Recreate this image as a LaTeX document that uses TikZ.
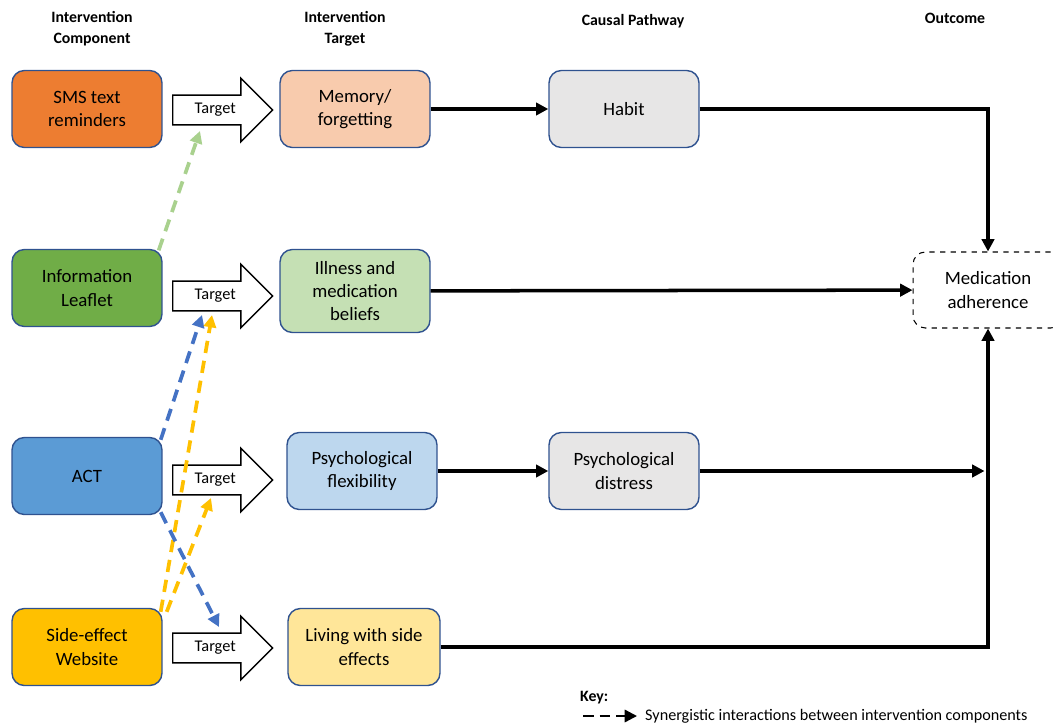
\documentclass[tikz,border=0pt]{standalone}
\usepackage{fontspec}
\setmainfont{Carlito}
\usetikzlibrary{positioning, arrows.meta, shapes.arrows, calc}

\definecolor{smsorange}{HTML}{ED7D31}
\definecolor{leafgreen}{HTML}{70AD47}
\definecolor{actblue}{HTML}{5B9BD5}
\definecolor{webgold}{HTML}{FFC000}
\definecolor{memfill}{HTML}{F8CBAD}
\definecolor{illfill}{HTML}{C5E0B4}
\definecolor{flexfill}{HTML}{BDD7EE}
\definecolor{livfill}{HTML}{FFE699}
\definecolor{pathgrey}{HTML}{E7E6E6}
\definecolor{boxblue}{HTML}{2F528F}
\definecolor{syngreen}{HTML}{A9D18E}
\definecolor{synblue}{HTML}{4472C4}

\begin{document}
\begin{tikzpicture}[x=0.02cm, y=-0.02cm]
		\tikzset{
			>={Triangle[length=7pt, width=7pt]},
			every node/.style={font=\fontsize{10.7}{13.2}\selectfont},
			box/.style={draw=boxblue, line width=0.8pt, rounded corners=7pt, align=center, minimum width=3cm, minimum height=1.54cm},
			header/.style={font=\fontsize{9}{12}\selectfont\bfseries, align=center},
			targetarrow/.style={single arrow, draw, line width=0.8pt, fill=white, font=\fontsize{9.3}{11}\selectfont,
				inner ysep=0.15cm, inner xsep=0pt, minimum height=2cm, single arrow head extend=0.34cm, anchor=tail},
			link/.style={->, line width=2pt},
			synergy/.style={->, line width=2.1pt, dash pattern=on 7pt off 4.5pt}
		}
		\useasboundingbox (0,0) rectangle (1053,726);
		
		% Column headers
		\node[header] (hcomp) at (92,29) {Intervention\\Component};
		\node[header] (htarget) at (345,29) {Intervention\\Target};
		\node[header] (hpath) at (633,21) {Causal Pathway};
		\node[header] (hout) at (955,18) {Outcome};
		
		% Intervention components
		\node[box, fill=smsorange] (sms) at (87,109) {SMS text\\reminders};
		\node[box, fill=leafgreen] (info) at (87,288) {Information\\Leaflet};
		\node[box, fill=actblue] (act) at (87,476) {ACT};
		\node[box, fill=webgold] (side) at (87,647) {Side-effect\\Website};
		
		% Target arrows
		\node[targetarrow] (t1) at (172,110) {Target};
		\node[targetarrow] (t2) at (172,296) {Target};
		\node[targetarrow] (t3) at (172,480) {Target};
		\node[targetarrow] (t4) at (172,648) {Target};
		
		% Intervention targets
		\node[box, fill=memfill] (memory) at (355,109) {Memory/\\forgetting};
		\node[box, fill=illfill, minimum height=1.66cm] (illness) at (355,291) {Illness and\\medication\\beliefs};
		\node[box, fill=flexfill] (flex) at (362,471) {Psychological\\flexibility};
		\node[box, fill=livfill, minimum width=3.04cm] (living) at (364,647) {Living with side\\effects};
		
		% Causal pathway
		\node[box, fill=pathgrey] (habit) at (624,109) {Habit};
		\node[box, fill=pathgrey] (distress) at (624,471) {Psychological\\distress};
		
		% Outcome
		\node[draw, dashed, line width=0.6pt, rounded corners=7pt, align=center, minimum width=3cm, minimum height=1.52cm] (outcome) at (988,290) {Medication\\adherence};
		
		% Pathways
		\draw[link] (memory) -- (habit);
		\draw[link] (habit) -| (outcome);
		\draw[link] (illness) -- (outcome);
		\draw[link] (flex) -- (distress);
		\draw[link, shorten >=2pt] (distress) -- (distress -| outcome);
		\draw[link] (living) -| (outcome);
		
		% Synergistic interactions
		\coordinate (g1) at (200,131);
		\coordinate (b1) at (202,315);
		\coordinate (y1) at (212,315);
		\coordinate (y2) at (211,498);
		\coordinate (b2) at (219,627);
		\draw[synergy, syngreen] ([xshift=-0.08cm, yshift=-0.03cm]info.north east) -- (g1);
		\draw[synergy, synblue] ([xshift=-0.04cm, yshift=-0.06cm]act.north east) -- (b1);
		\draw[synergy, webgold] ([xshift=-0.04cm, yshift=-0.08cm]side.north east) -- (y1);
		\draw[synergy, webgold] ([xshift=0.08cm, yshift=-0.08cm]side.north east) -- (y2);
		\draw[synergy, synblue] ([xshift=-0.04cm, yshift=0.06cm]act.south east) -- (b2);
		
		% Key
		\node[anchor=west, font=\fontsize{9}{11}\selectfont\bfseries] (keytitle) at (574,698) {Key:};
		\coordinate (keya) at (583,716);
		\coordinate (keyb) at (637,716);
		\draw[->, line width=1.3pt, dash pattern=on 6pt off 3.5pt] (keya) -- (keyb);
		\node[anchor=west, font=\fontsize{9.2}{11}\selectfont] (keytext) at (639,716) {Synergistic interactions between intervention components};
		
	\end{tikzpicture}
\end{document}
